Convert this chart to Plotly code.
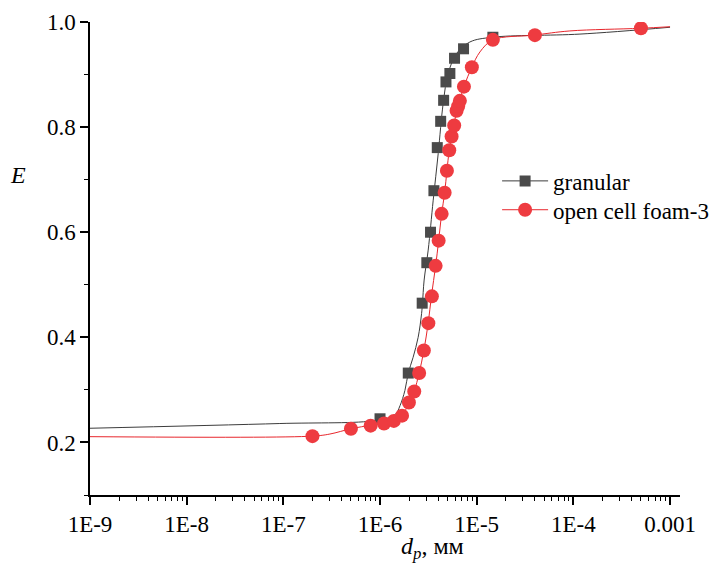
import plotly.graph_objects as go

# ---- data ----
gran_x = [1.0e-6, 1.96e-6, 2.73e-6, 3.05e-6, 3.33e-6, 3.61e-6, 3.91e-6, 4.24e-6,
          4.55e-6, 4.81e-6, 5.28e-6, 5.90e-6, 7.31e-6, 1.47e-5]
gran_y = [0.245, 0.332, 0.465, 0.542, 0.600, 0.679, 0.761, 0.811,
          0.851, 0.886, 0.902, 0.931, 0.949, 0.971]

foam_x = [2.0e-7, 5.0e-7, 8.0e-7, 1.10e-6, 1.39e-6, 1.69e-6, 1.99e-6, 2.26e-6,
          2.54e-6, 2.84e-6, 3.16e-6, 3.44e-6, 3.76e-6, 4.04e-6, 4.34e-6, 4.66e-6,
          4.92e-6, 5.20e-6, 5.50e-6, 5.85e-6, 6.19e-6, 6.44e-6, 6.70e-6, 7.38e-6,
          8.91e-6, 1.47e-5, 4.0e-5, 5.0e-4]
foam_y = [0.212, 0.226, 0.232, 0.236, 0.241, 0.251, 0.276, 0.297,
          0.332, 0.375, 0.427, 0.478, 0.536, 0.584, 0.635, 0.675,
          0.717, 0.756, 0.782, 0.803, 0.831, 0.840, 0.850, 0.877,
          0.914, 0.966, 0.975, 0.988]

# fitted curves
gran_fit_x = [1e-9, 9.2e-8, 9.2e-7, 1.43e-6, 1.61e-6, 1.81e-6, 1.96e-6, 2.20e-6,
              2.48e-6, 2.69e-6, 2.75e-6, 2.86e-6, 3.15e-6, 3.55e-6, 4.00e-6,
              4.50e-6, 5.07e-6, 6.19e-6, 8.51e-6, 1.47e-5, 1.17e-4, 1.0e-3]
gran_fit_y = [0.227, 0.236, 0.242, 0.253, 0.270, 0.299, 0.332, 0.362,
              0.400, 0.445, 0.465, 0.509, 0.566, 0.661, 0.750,
              0.845, 0.902, 0.940, 0.962, 0.971, 0.977, 0.990]

foam_fit_x = [1e-9, 1.98e-7, 3.03e-7, 5.0e-7, 8.2e-7, 1.08e-6, 1.37e-6, 1.68e-6,
              1.99e-6, 2.26e-6, 2.54e-6, 2.84e-6, 3.15e-6, 3.41e-6, 3.76e-6,
              4.04e-6, 4.34e-6, 4.66e-6, 4.92e-6, 5.20e-6, 5.54e-6, 5.96e-6,
              6.44e-6, 7.38e-6, 8.91e-6, 1.08e-5, 1.47e-5, 3.91e-5, 9.2e-5,
              4.88e-4, 1.0e-3]
foam_fit_y = [0.211, 0.212, 0.216, 0.226, 0.233, 0.236, 0.241, 0.251,
              0.275, 0.298, 0.332, 0.375, 0.427, 0.480, 0.536,
              0.584, 0.635, 0.675, 0.717, 0.756, 0.785, 0.815,
              0.840, 0.877, 0.914, 0.943, 0.966, 0.975, 0.983,
              0.988, 0.991]

x_tickvals = [1e-9, 1e-8, 1e-7, 1e-6, 1e-5, 1e-4, 1e-3]
x_ticktext = ["1E-9", "1E-8", "1E-7", "1E-6", "1E-5", "1E-4", "0.001"]
series_names = ["granular", "open cell foam-3"]

GRAY_LINE = "#3c3c3c"
GRAY_MK = "#4a4a4a"
RED_LINE = "#e8262c"
RED_MK = "#ee3b40"
FONT = '"Liberation Serif", "Times New Roman", Times, "DejaVu Serif", serif'

fig = go.Figure()
fig.add_trace(go.Scatter(x=gran_fit_x, y=gran_fit_y, mode="lines",
                         line=dict(color=GRAY_LINE, width=1), showlegend=False,
                         line_shape="spline"))
fig.add_trace(go.Scatter(x=foam_fit_x, y=foam_fit_y, mode="lines",
                         line=dict(color=RED_LINE, width=1), showlegend=False,
                         line_shape="spline"))
fig.add_trace(go.Scatter(x=gran_x, y=gran_y, mode="markers",
                         marker=dict(symbol="square", size=11, color=GRAY_MK),
                         showlegend=False))
fig.add_trace(go.Scatter(x=foam_x, y=foam_y, mode="markers",
                         marker=dict(symbol="circle", size=14, color=RED_MK),
                         showlegend=False))
# legend entries (one per legend box, for precise row spacing)
fig.add_trace(go.Scatter(x=[None], y=[None], mode="lines+markers", name=series_names[0],
                         line=dict(color=GRAY_LINE, width=1), legend="legend",
                         marker=dict(symbol="square", size=11, color=GRAY_MK)))
fig.add_trace(go.Scatter(x=[None], y=[None], mode="lines+markers", name=series_names[1],
                         line=dict(color=RED_LINE, width=1), legend="legend2",
                         marker=dict(symbol="circle", size=14, color=RED_MK)))

legend_common = dict(xanchor="left", yanchor="middle", bgcolor="rgba(0,0,0,0)",
                     font=dict(family=FONT, size=23), itemwidth=46)

fig.update_layout(
    width=720, height=566,
    margin=dict(l=82, r=48, t=14, b=79),
    paper_bgcolor="white", plot_bgcolor="white",
    font=dict(family=FONT, size=23, color="black"),
    legend=dict(x=0.69, y=0.664, **legend_common),
    legend2=dict(x=0.69, y=0.603, **legend_common),
    annotations=[
        dict(text="<i>E</i>", x=-0.122, y=0.677, xref="paper", yref="paper",
             xanchor="center", yanchor="middle",
             showarrow=False, font=dict(family=FONT, size=24)),
        dict(text="<i>d<sub>p</sub></i>, мм", x=0.58, y=-0.112, xref="paper",
             yref="paper", xanchor="center", yanchor="middle",
             showarrow=False, font=dict(family=FONT, size=24)),
    ],
)
fig.update_xaxes(
    type="log", range=[-9, -2.897], automargin=False,
    tickmode="array", tickvals=x_tickvals, ticktext=x_ticktext,
    ticks="outside", ticklen=8, tickwidth=1.5, tickcolor="black",
    showline=True, linecolor="black", linewidth=1.5, showgrid=False, zeroline=False,
    tickfont=dict(family=FONT, size=23),
    minor=dict(ticks="outside", ticklen=4, tickwidth=1.2, tickcolor="black",
               dtick="D1", showgrid=False),
)
fig.update_yaxes(
    range=[0.1, 1.0], tick0=0.2, dtick=0.2, tickformat=".1f", automargin=False,
    ticks="outside", ticklen=8, tickwidth=1.5, tickcolor="black",
    showline=True, linecolor="black", linewidth=1.5, showgrid=False, zeroline=False,
    tickfont=dict(family=FONT, size=23),
    minor=dict(ticks="outside", ticklen=4, tickwidth=1.2, tickcolor="black",
               dtick=0.1, showgrid=False),
)

fig.write_html("out.html")
